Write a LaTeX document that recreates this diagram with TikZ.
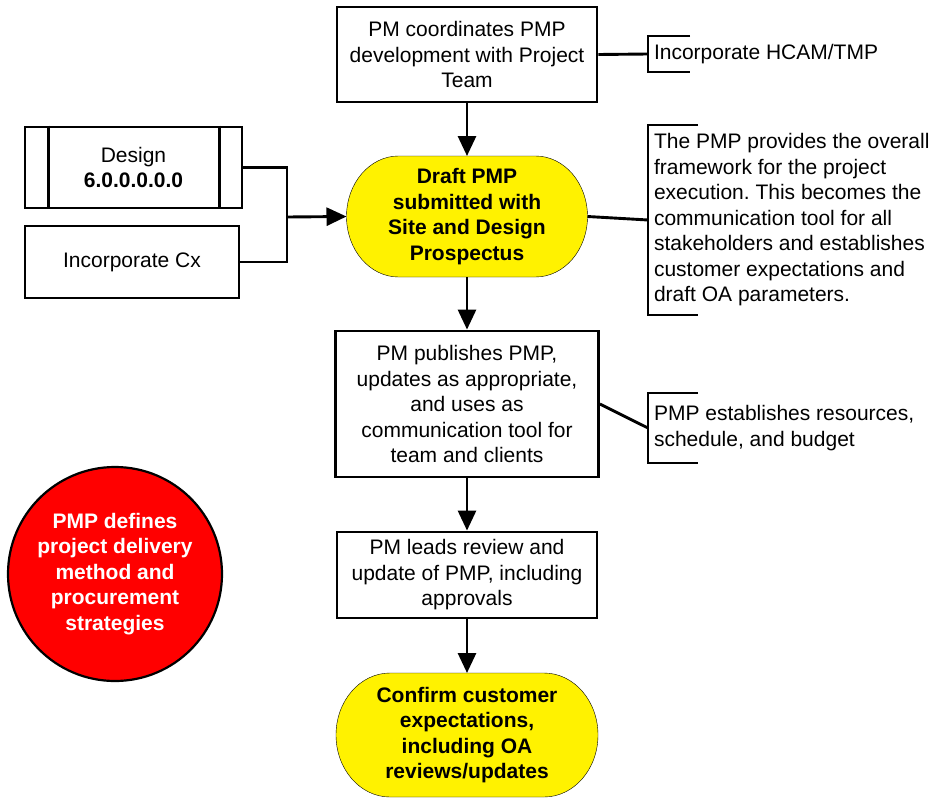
\documentclass[tikz,border=0pt]{standalone}
\usepackage{fontspec}
\setmainfont{Liberation Sans}
\frenchspacing
\usetikzlibrary{arrows.meta,backgrounds}

\begin{document}
\begin{tikzpicture}[x=1pt, y=-1pt, >={Triangle[length=20pt,width=18pt]}, line width=2.9pt,
  every node/.style={font=\fontsize{21}{25.5}\selectfont},
  process/.style={draw, fill=white, align=center, inner sep=0pt},
  terminal/.style={align=center, inner sep=0pt, outer sep=0pt, font=\fontsize{21}{25.5}\selectfont\bfseries},
  note/.style={anchor=west, align=left, inner xsep=6pt, inner ysep=0pt, outer sep=0pt}]
  \useasboundingbox (0,0) rectangle (944,800);

  % main column
  \node[process, minimum width=260, minimum height=95] (coord) at (467,54.5)
        {PM coordinates PMP\\development with Project\\Team};
  \node[terminal, minimum width=241, minimum height=121] (draft) at (467,216.5)
        {Draft PMP\\submitted with\\Site and Design\\Prospectus};
  \node[process, minimum width=263, minimum height=146] (publish) at (467,404)
        {PM publishes PMP,\\updates as appropriate,\\and uses as\\communication tool for\\team and clients};
  \node[process, minimum width=260, minimum height=86] (review) at (467,575)
        {PM leads review and\\update of PMP, including\\approvals};
  \node[terminal, minimum width=262, minimum height=124] (confirm) at (467,735)
        {Confirm customer\\expectations,\\including OA\\reviews/updates};

  % inputs on the left
  \node[process, minimum width=217, minimum height=81] (design) at (133.5,167.5)
        {Design\\\textbf{6.0.0.0.0.0}};
  \draw ([xshift=25pt]design.north west) -- ([xshift=25pt]design.south west);
  \draw ([xshift=-24pt]design.north east) -- ([xshift=-24pt]design.south east);
  \node[process, minimum width=214, minimum height=72] (cx) at (132,262) {Incorporate Cx};

  \node[circle, draw, line width=2.2pt, fill=red, text=white, minimum size=214, inner sep=0pt,
        align=center, font=\fontsize{21}{25.5}\selectfont\bfseries] (delivery) at (115,574)
        {PMP defines\\project delivery\\method and\\procurement\\strategies};

  % notes on the right
  \node[note, minimum height=36] (hcam) at (648,54) {Incorporate HCAM/TMP};
  \node[note, minimum height=190] (frame) at (648,220)
        {The PMP provides the overall\\framework for the project\\execution. This becomes the\\communication tool for all\\stakeholders and establishes\\customer expectations and\\draft OA parameters.};
  \node[note, minimum height=70] (budget) at (648,428)
        {PMP establishes resources,\\schedule, and budget};
  \foreach \n/\w in {hcam/42, frame/50, budget/50}
    \draw ([xshift=\w pt]\n.north west) -- (\n.north west) -- (\n.south west) -- ([xshift=\w pt]\n.south west);

  % terminal outlines
  \begin{scope}[on background layer]
    \foreach \n/\rx/\ry in {draft/52/60.5, confirm/54/62}
      \draw[fill=yellow] ([xshift=\rx pt]\n.north west) -- ([xshift=-\rx pt]\n.north east)
        arc[start angle=90, end angle=-90, x radius=\rx pt, y radius=\ry pt]
        -- ([xshift=\rx pt]\n.south west)
        arc[start angle=270, end angle=90, x radius=\rx pt, y radius=\ry pt] -- cycle;
  \end{scope}

  % connectors
  \draw[->] (coord) -- (draft);
  \draw[->] (draft) -- (publish);
  \draw[->] (publish) -- (review);
  \draw[->] (review) -- (confirm);
  \coordinate (jn) at (287,217);
  \draw (design.east) -| (jn) |- (cx.east);
  \draw[->] (jn) -- (draft.west);
  \draw (coord.east) -- (hcam.west);
  \draw (draft.east) -- (frame.west);
  \draw (publish.east) -- (budget.west);
\end{tikzpicture}
\end{document}
